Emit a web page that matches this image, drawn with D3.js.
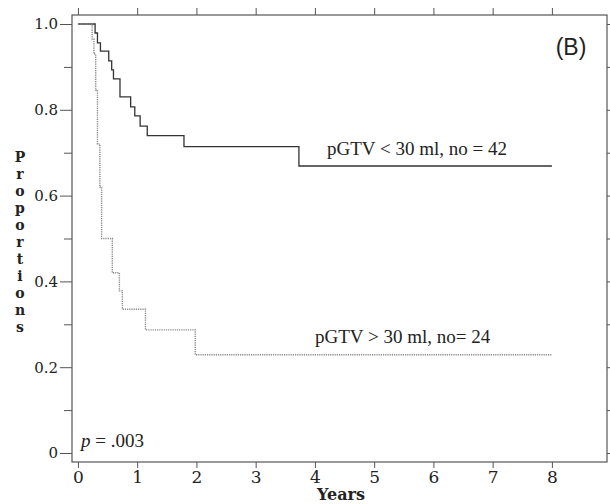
<!DOCTYPE html>
<head>
  <meta charset="utf-8">
  <script src="https://d3js.org/d3.v7.min.js"></script>
  <style>
    body { margin:0; background:#fff; }
    .axis path, .axis line { stroke:#555; }
    .axis text { font-family:"DejaVu Serif", serif; fill:#222; }
    .frame { fill:none; stroke:#555; stroke-width:1.2; }
  </style>
</head>
<body>
  <script>
    // data
    var lowTimes = [0, 0.29, 0.33, 0.38, 0.52, 0.57, 0.60, 0.71, 0.89, 0.96, 1.05, 1.17, 1.79, 3.73, 8.0];
    var lowSurv  = [1, 0.979, 0.956, 0.937, 0.914, 0.893, 0.872, 0.83, 0.807, 0.786, 0.762, 0.74, 0.714, 0.669, 0.669];
    var highTimes = [0, 0.24, 0.27, 0.30, 0.33, 0.37, 0.40, 0.58, 0.70, 0.75, 1.14, 1.98, 8.0];
    var highSurv  = [1, 0.965, 0.93, 0.846, 0.72, 0.62, 0.5, 0.42, 0.378, 0.335, 0.287, 0.229, 0.229];
    var xTicks = [0, 1, 2, 3, 4, 5, 6, 7, 8];
    var yTicks = [0, 0.2, 0.4, 0.6, 0.8, 1.0];
    var yTickLabels = ["0", "0.2", "0.4", "0.6", "0.8", "1.0"];
    var yMinor = [0.1, 0.3, 0.5, 0.7, 0.9];

    var width = 610, height = 504;
    var svg = d3.select('body').append('svg')
      .attr('width', width)
      .attr('height', height);

    var x = d3.scaleLinear().domain([-0.1, 8.93]).range([72, 607]);
    var y = d3.scaleLinear().domain([-0.021, 1.021]).range([462, 15]);

    // frame
    svg.append('rect').attr('class', 'frame')
      .attr('x', 72).attr('y', 15).attr('width', 535).attr('height', 447);

    // bottom axis
    var gx = svg.append('g').attr('class', 'axis')
      .attr('transform', 'translate(0,462)')
      .call(d3.axisBottom(x).tickValues(xTicks).tickSize(6).tickPadding(3));
    gx.select('.domain').remove();
    gx.selectAll('text').style('font-size', '17px');

    // top ticks
    var gt = svg.append('g').attr('class', 'axis')
      .attr('transform', 'translate(0,15)')
      .call(d3.axisTop(x).tickValues(xTicks).tickSize(7).tickFormat(''));
    gt.select('.domain').remove();

    // left axis, major
    var gy = svg.append('g').attr('class', 'axis')
      .attr('transform', 'translate(72,0)')
      .call(d3.axisLeft(y).tickValues(yTicks).tickSize(12).tickPadding(2)
        .tickFormat(function(d, i) { return yTickLabels[i]; }));
    gy.select('.domain').remove();
    gy.selectAll('text').style('font-size', '15px');

    // left minor ticks
    var gym = svg.append('g').attr('class', 'axis')
      .attr('transform', 'translate(72,0)')
      .call(d3.axisLeft(y).tickValues(yMinor).tickSize(8).tickFormat(''));
    gym.select('.domain').remove();

    // right ticks
    var gr = svg.append('g').attr('class', 'axis')
      .attr('transform', 'translate(607,0)')
      .call(d3.axisRight(y).tickValues(yTicks.concat(yMinor)).tickSize(6).tickFormat(''));
    gr.select('.domain').remove();

    // curves
    var line = d3.line()
      .x(function(d) { return x(d[0]); })
      .y(function(d) { return y(d[1]); })
      .curve(d3.curveStepAfter);

    svg.append('path')
      .datum(d3.zip(lowTimes, lowSurv))
      .attr('d', line)
      .attr('fill', 'none')
      .attr('stroke', '#333')
      .attr('stroke-width', 1.3);

    svg.append('path')
      .datum(d3.zip(highTimes, highSurv))
      .attr('d', line)
      .attr('fill', 'none')
      .attr('stroke', '#888')
      .attr('stroke-width', 1.4)
      .attr('stroke-dasharray', '1.2,1');

    // labels
    svg.append('text')
      .attr('x', 327).attr('y', 155)
      .style('font-family', '"Liberation Serif", serif')
      .style('font-size', '19px').attr('fill', '#222')
      .text('pGTV < 30 ml, no = 42');

    svg.append('text')
      .attr('x', 315).attr('y', 343)
      .style('font-family', '"Liberation Serif", serif')
      .style('font-size', '19px').attr('fill', '#222')
      .text('pGTV > 30 ml, no= 24');

    var pt = svg.append('text')
      .attr('x', 81).attr('y', 447)
      .style('font-family', '"Liberation Serif", serif')
      .style('font-size', '19px').attr('fill', '#222');
    pt.append('tspan').style('font-style', 'italic').text('p');
    pt.append('tspan').text(' = .003');

    svg.append('text')
      .attr('x', 571).attr('y', 55)
      .attr('text-anchor', 'middle')
      .style('font-family', '"Liberation Sans", Arial, sans-serif')
      .style('font-size', '23px').attr('fill', '#222')
      .text('(B)');

    svg.append('text')
      .attr('x', 341).attr('y', 500)
      .attr('text-anchor', 'middle')
      .style('font-family', '"DejaVu Serif", serif')
      .style('font-size', '16px').style('font-weight', 'bold').attr('fill', '#222')
      .text('Years');

    // stacked vertical y label
    var yl = 'Proportions'.split('');
    svg.append('g').selectAll('text')
      .data(yl)
      .enter().append('text')
      .attr('x', 20)
      .attr('y', function(d, i) { return 162 + i * 17; })
      .attr('text-anchor', 'middle')
      .style('font-family', '"DejaVu Serif", serif')
      .style('font-size', '14px').style('font-weight', 'bold').attr('fill', '#222')
      .text(function(d) { return d; });
  </script>
</body>
